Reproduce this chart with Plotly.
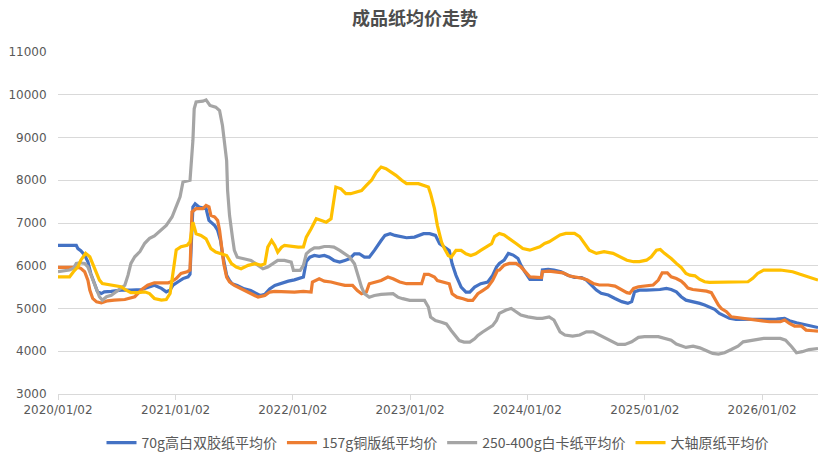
import plotly.graph_objects as go

# ---- data ----
blue_dates = ["2020-01-02","2020-02-28","2020-03-04","2020-03-13","2020-03-25","2020-04-04","2020-04-13","2020-04-25",
"2020-05-04","2020-05-16","2020-05-25","2020-06-16","2020-07-16","2020-08-16","2020-09-19","2020-10-07","2020-10-28",
"2020-11-19","2020-12-04","2020-12-16","2020-12-25","2021-01-10","2021-01-25","2021-02-10","2021-02-16","2021-02-25",
"2021-03-04","2021-03-16","2021-04-07","2021-04-16","2021-05-04","2021-05-13","2021-05-22","2021-05-28","2021-06-04",
"2021-06-10","2021-06-19","2021-06-27","2021-07-13","2021-08-04","2021-08-24","2021-09-10","2021-09-22","2021-10-07",
"2021-10-22","2021-11-07","2021-11-27","2021-12-19","2022-01-07","2022-01-24","2022-02-04","2022-02-13","2022-02-24",
"2022-03-10","2022-03-25","2022-04-10","2022-04-25","2022-05-10","2022-05-28","2022-06-13","2022-06-28","2022-07-13",
"2022-07-28","2022-08-13","2022-08-28","2022-09-13","2022-09-25","2022-10-04","2022-10-16","2022-11-01","2022-11-16",
"2022-12-01","2022-12-22","2023-01-16","2023-02-13","2023-03-04","2023-03-22","2023-04-04","2023-04-19","2023-05-04",
"2023-05-13","2023-05-25","2023-06-10","2023-06-25","2023-07-07","2023-07-22","2023-08-10","2023-09-01","2023-09-16",
"2023-09-28","2023-10-07","2023-10-22","2023-11-04","2023-11-19","2023-12-04","2023-12-13","2023-12-25","2024-01-10",
"2024-02-15","2024-02-18","2024-03-07","2024-03-25","2024-04-16","2024-05-07","2024-05-28","2024-06-19","2024-07-04",
"2024-07-19","2024-08-04","2024-08-19","2024-09-10","2024-10-01","2024-10-22","2024-11-10","2024-11-22","2024-12-01",
"2024-12-16","2025-01-07","2025-01-28","2025-02-18","2025-03-10","2025-03-25","2025-04-10","2025-04-25","2025-05-10",
"2025-05-22","2025-06-07","2025-06-22","2025-07-07","2025-07-22","2025-08-07","2025-08-22","2025-09-07","2025-09-22",
"2025-10-13","2025-11-16","2025-12-16","2026-01-16","2026-02-16","2026-03-13","2026-03-28","2026-04-19","2026-05-07",
"2026-05-28","2026-06-13","2026-06-25"]
blue_values = [6475,6475,6400,6350,6250,6095,5820,5550,
5390,5350,5390,5400,5430,5430,5445,5490,5545,
5470,5390,5430,5545,5625,5700,5740,5800,7375,
7450,7375,7335,7060,6940,6830,6590,6280,5970,
5775,5655,5580,5540,5460,5420,5345,5305,5330,
5460,5540,5595,5640,5670,5700,5735,6100,6200,
6240,6220,6240,6200,6125,6085,6125,6165,6280,
6280,6200,6200,6360,6475,6590,6710,6750,6710,
6685,6655,6670,6750,6750,6710,6515,6437,6360,
6045,5775,5500,5385,5385,5500,5580,5620,5775,
5970,6055,6130,6290,6250,6170,6015,5860,5680,
5680,5900,5915,5900,5860,5780,5725,5725,5665,
5550,5430,5355,5315,5235,5160,5120,5160,5390,
5430,5430,5430,5445,5470,5445,5390,5275,5195,
5175,5160,5120,5080,5040,4980,4885,4820,4770,
4745,4745,4745,4750,4750,4770,4715,4665,4635,
4610,4570,4555]

orange_dates = ["2020-01-02","2020-03-04","2020-03-13","2020-03-25","2020-04-04","2020-04-10","2020-04-19","2020-05-01",
"2020-05-16","2020-06-04","2020-06-25","2020-07-28","2020-08-28","2020-09-19","2020-10-07","2020-10-28","2020-12-10",
"2020-12-19","2021-01-04","2021-01-19","2021-02-07","2021-02-16","2021-02-22","2021-03-07","2021-03-28","2021-04-07",
"2021-04-16","2021-04-22","2021-05-04","2021-05-13","2021-05-19","2021-05-25","2021-06-01","2021-06-10","2021-06-19",
"2021-07-04","2021-07-25","2021-08-16","2021-09-01","2021-09-16","2021-10-07","2021-10-22","2021-11-07","2021-12-07",
"2022-01-07","2022-02-04","2022-02-28","2022-03-04","2022-03-25","2022-04-10","2022-05-01","2022-05-22","2022-06-13",
"2022-07-07","2022-07-22","2022-08-04","2022-08-19","2022-08-28","2022-09-13","2022-10-04","2022-10-25","2022-11-10",
"2022-12-01","2022-12-22","2023-02-07","2023-02-16","2023-03-01","2023-03-19","2023-03-28","2023-04-13","2023-05-04",
"2023-05-13","2023-05-28","2023-06-16","2023-07-01","2023-07-16","2023-08-01","2023-08-16","2023-09-01","2023-09-16",
"2023-10-01","2023-10-07","2023-10-22","2023-11-07","2023-11-28","2023-12-13","2023-12-28","2024-01-10","2024-02-15",
"2024-02-18","2024-03-10","2024-04-01","2024-04-22","2024-05-13","2024-06-04","2024-06-22","2024-07-07","2024-07-25",
"2024-08-13","2024-09-10","2024-10-01","2024-10-22","2024-11-07","2024-11-16","2024-11-28","2024-12-13","2025-01-07",
"2025-01-28","2025-02-13","2025-02-25","2025-03-13","2025-03-25","2025-04-10","2025-04-25","2025-05-04","2025-05-16",
"2025-05-31","2025-06-22","2025-07-13","2025-07-28","2025-08-07","2025-08-19","2025-08-28","2025-09-13","2025-09-28",
"2025-10-13","2025-11-04","2025-11-25","2025-12-16","2026-01-07","2026-01-25","2026-02-28","2026-03-13","2026-03-28",
"2026-04-13","2026-05-04","2026-05-19","2026-06-10","2026-06-25"]
orange_values = [5960,5960,5940,5860,5665,5430,5235,5155,
5130,5180,5195,5210,5275,5445,5545,5600,5600,
5625,5700,5820,5860,5900,7260,7335,7335,7410,
7380,7180,7140,7060,6830,6440,6050,5735,5620,
5540,5460,5385,5305,5265,5305,5385,5400,5385,
5385,5400,5385,5620,5695,5640,5620,5580,5540,
5540,5420,5345,5385,5580,5620,5655,5735,5695,
5620,5580,5580,5800,5800,5735,5655,5620,5580,
5345,5265,5230,5190,5190,5345,5420,5500,5655,
5890,5900,6015,6055,6055,5975,5860,5740,5725,
5860,5875,5860,5835,5760,5740,5705,5665,5585,
5550,5550,5525,5430,5370,5355,5470,5510,5525,
5550,5665,5835,5835,5740,5700,5640,5580,5480,
5445,5430,5405,5370,5235,5080,5000,4925,4805,
4790,4770,4745,4730,4715,4690,4690,4730,4650,
4590,4590,4495,4480,4470]

gray_dates = ["2020-01-02","2020-01-22","2020-02-07","2020-02-19","2020-02-28","2020-03-09","2020-03-25","2020-04-04",
"2020-04-19","2020-05-01","2020-05-10","2020-05-19","2020-06-01","2020-06-16","2020-07-01","2020-07-16","2020-07-28",
"2020-08-07","2020-08-16","2020-08-28","2020-09-13","2020-09-28","2020-10-13","2020-10-28","2020-11-13","2020-12-04",
"2020-12-22","2021-01-04","2021-01-16","2021-01-25","2021-02-16","2021-02-25","2021-03-01","2021-03-07","2021-03-28",
"2021-04-07","2021-04-19","2021-05-07","2021-05-19","2021-05-28","2021-06-10","2021-06-13","2021-06-19","2021-06-28",
"2021-07-04","2021-07-13","2021-08-04","2021-08-25","2021-09-16","2021-10-01","2021-10-16","2021-11-01","2021-11-16",
"2021-12-07","2021-12-28","2022-01-04","2022-01-25","2022-02-04","2022-02-13","2022-02-25","2022-03-10","2022-03-25",
"2022-04-10","2022-04-25","2022-05-10","2022-05-28","2022-06-13","2022-06-28","2022-07-13","2022-07-22","2022-08-04",
"2022-08-13","2022-08-28","2022-09-13","2022-10-04","2022-11-10","2022-11-25","2022-12-10","2023-01-01","2023-02-16",
"2023-02-28","2023-03-07","2023-03-22","2023-04-10","2023-04-25","2023-05-10","2023-05-25","2023-06-04","2023-06-19",
"2023-07-07","2023-07-22","2023-08-01","2023-08-16","2023-09-01","2023-09-16","2023-09-28","2023-10-07","2023-10-28",
"2023-11-13","2023-11-28","2023-12-13","2024-01-04","2024-02-01","2024-02-18","2024-03-10","2024-03-25","2024-04-13",
"2024-04-28","2024-05-22","2024-06-13","2024-07-04","2024-07-25","2024-08-13","2024-09-04","2024-09-25","2024-10-10",
"2024-11-01","2024-11-22","2024-12-13","2025-01-01","2025-02-13","2025-03-04","2025-03-25","2025-04-10","2025-04-25",
"2025-05-10","2025-06-01","2025-06-22","2025-07-13","2025-08-01","2025-08-19","2025-09-07","2025-09-28","2025-10-19",
"2025-11-04","2025-11-25","2025-12-16","2026-01-07","2026-02-28","2026-03-16","2026-04-04","2026-04-19","2026-05-07",
"2026-05-28","2026-06-25"]
gray_values = [5860,5880,5900,5940,6055,6070,6055,5975,
5665,5430,5275,5195,5275,5310,5390,5470,5545,
5780,6055,6210,6330,6525,6640,6700,6800,6945,
7140,7375,7610,7960,8000,8930,9670,9830,9850,
9880,9750,9710,9630,9280,8460,7760,7180,6670,
6360,6200,6165,6125,6010,5930,5970,6050,6125,
6125,6085,5890,5890,6010,6280,6360,6420,6420,
6450,6450,6437,6360,6280,6200,6045,5810,5500,
5345,5265,5305,5330,5345,5265,5230,5190,5190,
5035,4800,4720,4680,4640,4485,4330,4250,4215,
4215,4290,4370,4450,4525,4600,4720,4885,4965,
5000,4925,4845,4805,4770,4770,4805,4730,4455,
4380,4355,4380,4455,4455,4380,4300,4220,4160,
4160,4220,4325,4340,4340,4300,4260,4170,4120,
4090,4120,4080,4010,3950,3935,3965,4040,4120,
4220,4245,4275,4300,4300,4260,4105,3965,3990,
4040,4065]

yellow_dates = ["2020-01-02","2020-02-07","2020-02-19","2020-03-04","2020-03-13","2020-03-28","2020-04-10","2020-04-19",
"2020-05-01","2020-05-10","2020-05-19","2020-06-04","2020-06-25","2020-07-16","2020-08-01","2020-08-16","2020-09-07",
"2020-09-28","2020-10-13","2020-10-28","2020-11-19","2020-12-04","2020-12-16","2020-12-25","2021-01-04","2021-01-19",
"2021-02-07","2021-02-16","2021-02-25","2021-03-07","2021-03-22","2021-04-07","2021-04-22","2021-05-07","2021-05-22",
"2021-06-10","2021-06-25","2021-07-10","2021-07-25","2021-08-16","2021-09-07","2021-09-25","2021-10-07","2021-10-16",
"2021-10-28","2021-11-07","2021-11-16","2021-11-28","2021-12-07","2021-12-28","2022-01-19","2022-02-04","2022-02-13",
"2022-02-28","2022-03-16","2022-04-01","2022-04-16","2022-05-01","2022-05-16","2022-06-01","2022-06-16","2022-07-01",
"2022-07-19","2022-08-04","2022-08-19","2022-09-04","2022-09-19","2022-10-04","2022-10-19","2022-11-04","2022-11-19",
"2022-12-07","2022-12-22","2023-01-28","2023-02-13","2023-02-28","2023-03-07","2023-03-19","2023-03-28","2023-04-10",
"2023-04-19","2023-05-01","2023-05-10","2023-05-25","2023-06-10","2023-06-25","2023-07-10","2023-07-25","2023-08-10",
"2023-08-28","2023-09-13","2023-09-22","2023-10-07","2023-10-22","2023-11-07","2023-11-28","2023-12-19","2024-01-10",
"2024-02-10","2024-02-25","2024-03-10","2024-03-25","2024-04-13","2024-05-01","2024-05-28","2024-06-13","2024-06-28",
"2024-07-13","2024-08-04","2024-08-28","2024-09-25","2024-10-16","2024-11-07","2024-11-28","2024-12-16","2025-01-07",
"2025-01-22","2025-02-07","2025-02-19","2025-03-04","2025-03-25","2025-04-10","2025-04-25","2025-05-10","2025-05-22",
"2025-06-07","2025-06-22","2025-07-07","2025-07-22","2025-11-19","2025-12-04","2025-12-19","2026-01-07","2026-02-28",
"2026-03-16","2026-04-07","2026-04-28","2026-05-19","2026-06-10","2026-06-25"]
yellow_values = [5740,5740,5860,5975,6130,6290,6210,6055,
5860,5665,5585,5560,5545,5510,5430,5370,5370,
5390,5350,5235,5195,5210,5350,5820,6370,6445,
6480,6560,7020,6750,6710,6630,6400,6320,6280,
6240,6050,5970,5930,6010,6050,6010,6050,6435,
6590,6475,6320,6435,6475,6450,6435,6440,6670,
6865,7100,7060,7020,7100,7840,7800,7685,7685,
7725,7760,7880,8000,8190,8310,8270,8190,8115,
8000,7920,7920,7880,7840,7685,7335,6945,6555,
6400,6240,6200,6360,6360,6280,6240,6280,6360,
6437,6515,6680,6755,6720,6640,6520,6405,6365,
6445,6520,6560,6640,6720,6755,6755,6680,6520,
6365,6290,6330,6290,6210,6130,6095,6095,6130,
6210,6365,6380,6290,6170,6055,5960,5820,5780,
5765,5680,5625,5610,5625,5705,5820,5900,5900,
5885,5860,5805,5760,5705,5665]

series_names = ["70g高白双胶纸平均价", "157g铜版纸平均价", "250-400g白卡纸平均价", "大轴原纸平均价"]
series_colors = ["#4472C4", "#ED7D31", "#A5A5A5", "#FFC000"]

tick_dates = ["2020-01-02", "2021-01-02", "2022-01-02", "2023-01-02", "2024-01-02", "2025-01-02", "2026-01-02"]
tick_labels = ["2020/01/02", "2021/01/02", "2022/01/02", "2023/01/02", "2024/01/02", "2025/01/02", "2026/01/02"]

x_range = ["2020-01-02", "2026-06-25"]
y_range = [3000, 11000]

# ---- figure ----
fig = go.Figure()
all_dates = [blue_dates, orange_dates, gray_dates, yellow_dates]
all_values = [blue_values, orange_values, gray_values, yellow_values]
for d, v, name, col in zip(all_dates, all_values, series_names, series_colors):
    fig.add_trace(go.Scatter(x=d, y=v, mode="lines", name=name,
                             line=dict(color=col, width=3.2)))

cjk = "Noto Sans CJK SC, Noto Sans, sans-serif"
num = "DejaVu Sans, sans-serif"
W, H = 830, 458
fig.update_layout(
    width=W, height=H,
    margin=dict(l=58, r=12, t=52, b=64, autoexpand=False),
    paper_bgcolor="white", plot_bgcolor="white",
    font=dict(family=cjk, color="#595959", size=12),
    title=dict(text="成品纸均价走势", x=0.5, xanchor="center", y=1 - 18.5 / H, yanchor="middle",
               yref="container", font=dict(size=18, color="#4d4d4d", family=cjk, weight="bold")),
    legend=dict(orientation="h", x=0.5, xanchor="center", y=15 / H, yanchor="middle",
                yref="container", font=dict(size=14, color="#595959", family=cjk),
                itemwidth=30, tracegroupgap=0, bgcolor="rgba(0,0,0,0)"),
    showlegend=True,
)
fig.update_xaxes(type="date", range=x_range, tickvals=tick_dates, ticktext=tick_labels,
                 showgrid=False, showline=True, linecolor="#d9d9d9", linewidth=1,
                 ticks="outside", ticklen=5, tickcolor="#d9d9d9",
                 tickfont=dict(size=12, color="#595959", family=num),
                 zeroline=False, automargin=False)
fig.update_yaxes(range=y_range, dtick=1000, tick0=3000, showgrid=True, gridcolor="#d9d9d9", gridwidth=1,
                 showline=False, zeroline=False, ticks="outside", ticklen=8, tickcolor="rgba(0,0,0,0)",
                 tickfont=dict(size=12, color="#595959", family=num),
                 tickformat="d", automargin=False)

# remove the browser's default page margin so the figure sits at the window origin
fig.write_html("out.html", config={"displayModeBar": False},
               post_script="document.body.style.margin='0';document.body.style.overflow='hidden';")
